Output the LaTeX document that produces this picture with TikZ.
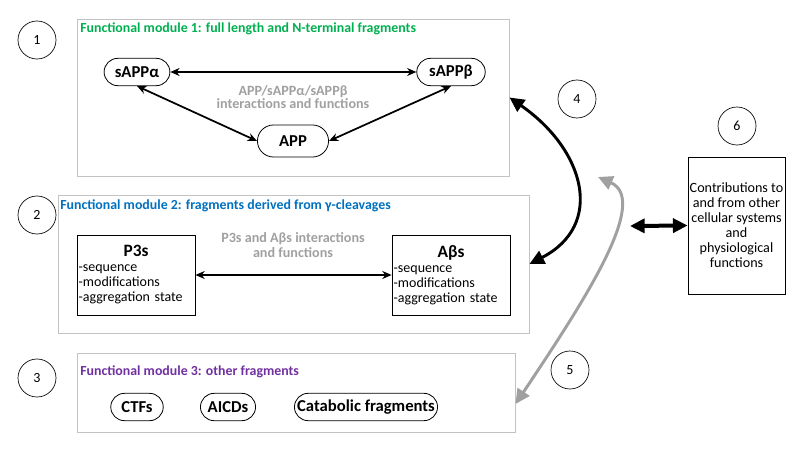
\documentclass[tikz,border=0pt]{standalone}
\usepackage{fontspec}
\setmainfont{Carlito}
\usetikzlibrary{arrows.meta,shapes.misc}
\definecolor{boxGray}{RGB}{195,195,195}
\definecolor{noteGray}{RGB}{160,160,160}
\definecolor{moduleGreen}{RGB}{0,176,80}
\definecolor{moduleBlue}{RGB}{0,112,192}
\definecolor{modulePurple}{RGB}{112,48,160}
\tikzset{
	module box/.style={
		rectangle,
		draw=boxGray,
		line width=0.7pt
	},
	module title/.style={
		anchor=west,
		inner sep=0pt,
		font=\bfseries\fontsize{10.4}{12}\selectfont
	},
	fragment pill/.style={
		rounded rectangle,
		draw,
		line width=0.6pt,
		minimum height=20.5pt,
		font=\bfseries\fontsize{12.5}{14}\selectfont
	},
	fragment box/.style={
		rectangle,
		draw,
		line width=0.6pt,
		minimum width=88.5pt,
		minimum height=60pt,
		text width=86pt,
		inner xsep=1pt,
		align=left,
		font=\fontsize{10.5}{11.25}\selectfont
	},
	gray note/.style={
		align=center,
		text=noteGray,
		font=\bfseries\fontsize{10.6}{10}\selectfont
	},
	number circle/.style={
		circle,
		draw,
		line width=0.5pt,
		minimum size=28.5pt,
		font=\fontsize{10.5}{12}\selectfont
	},
}

\begin{document}
\begin{tikzpicture}[x=0.75pt,y=-0.75pt]
\tikzset{small link/.style = {
		{Stealth[length=7pt,width=6pt]}-{Stealth[length=7pt,width=6pt]},
		line width=1.3pt}}
\tikzset{big link/.style = {
		{Triangle[length=11pt,width=10.5pt]}-{Triangle[length=11pt,width=10.5pt]},
		line width=2.2pt}}
\useasboundingbox (0,0) rectangle (787,452);

% module 1
\node[number circle] (numOne) at (37,40) {1};
\node[module box, minimum width=324pt, minimum height=117.75pt] (moduleOne) at (293,97.5) {};
	\node[module title, text=moduleGreen] (titleOne) at (80,29) {Functional module 1: full length and N-terminal fragments};
	\node[fragment pill, minimum width=56pt] (sAPPalpha) at (137,72) {sAPPα};
	\node[fragment pill, minimum width=58pt] (sAPPbeta) at (451,72) {sAPPβ};
	\node[fragment pill, minimum width=60pt, minimum height=24pt] (APP) at (293,141) {APP};
	\node[gray note] (noteOne) at (293,97) {APP/sAPPα/sAPPβ\\interactions and functions};

% module 2
\node[number circle] (numTwo) at (37,215) {2};
\node[module box, minimum width=353.25pt, minimum height=103.5pt] (moduleTwo) at (293.5,264) {};
	\node[module title, text=moduleBlue] (titleTwo) at (60,206) {Functional module 2: fragments derived from γ-cleavages};
	\node[fragment box] (P3s) at (136,275) {\makebox[86pt]{\bfseries\fontsize{13}{14}\selectfont P3s}\\-sequence\\-modifications\\-aggregation state};
	\node[fragment box] (Abetas) at (451,275) {\makebox[86pt]{\bfseries\fontsize{13}{14}\selectfont Aβs}\\-sequence\\-modifications\\-aggregation state};
	\node[gray note, font=\bfseries\fontsize{10.6}{11.25}\selectfont] (noteTwo) at (293,245.5) {P3s and Aβs interactions\\and functions};

% module 3
\node[number circle] (numThree) at (37,378) {3};
\node[module box, minimum width=328.5pt, minimum height=59.25pt] (moduleThree) at (296,392.5) {};
	\node[module title, text=modulePurple] (titleThree) at (80,372) {Functional module 3: other fragments};
	\node[fragment pill, minimum width=46pt] (CTFs) at (137,407) {CTFs};
	\node[fragment pill, minimum width=48pt] (AICDs) at (228,407) {AICDs};
	\node[fragment pill, minimum width=114pt] (catabolic) at (366,407) {Catabolic fragments};

% other systems
\node[number circle] (numFour) at (577,99) {4};
\node[number circle] (numFive) at (570,370) {5};
\node[number circle] (numSix) at (737,126) {6};
\node[rectangle, draw, line width=0.6pt, minimum width=72.75pt, minimum height=102.75pt,
	inner xsep=0.5pt, align=center, font=\fontsize{10.6}{11.25}\selectfont] (systems) at (736.5,225.5)
	{Contributions to\\and from other\\cellular systems\\and\\physiological\\functions};

\coordinate (systemsLink) at (630,226);
\coordinate (grayTip) at (598,177);

\draw[small link] (sAPPalpha) -- (sAPPbeta);
\draw[small link] (sAPPalpha.south) -- (APP.west);
\draw[small link] (APP.east) -- (sAPPbeta.south);
\draw[small link] (P3s) -- (Abetas);
\draw[big link] (moduleOne.east) .. controls (585,150) and (605,225) .. (moduleTwo.east);
\draw[big link, color=noteGray] (moduleThree.-3) .. controls (585,300) and (650,200) .. (grayTip);
\draw[big link, line width=3pt] (systemsLink) -- (systems.west);

\end{tikzpicture}
\end{document}
